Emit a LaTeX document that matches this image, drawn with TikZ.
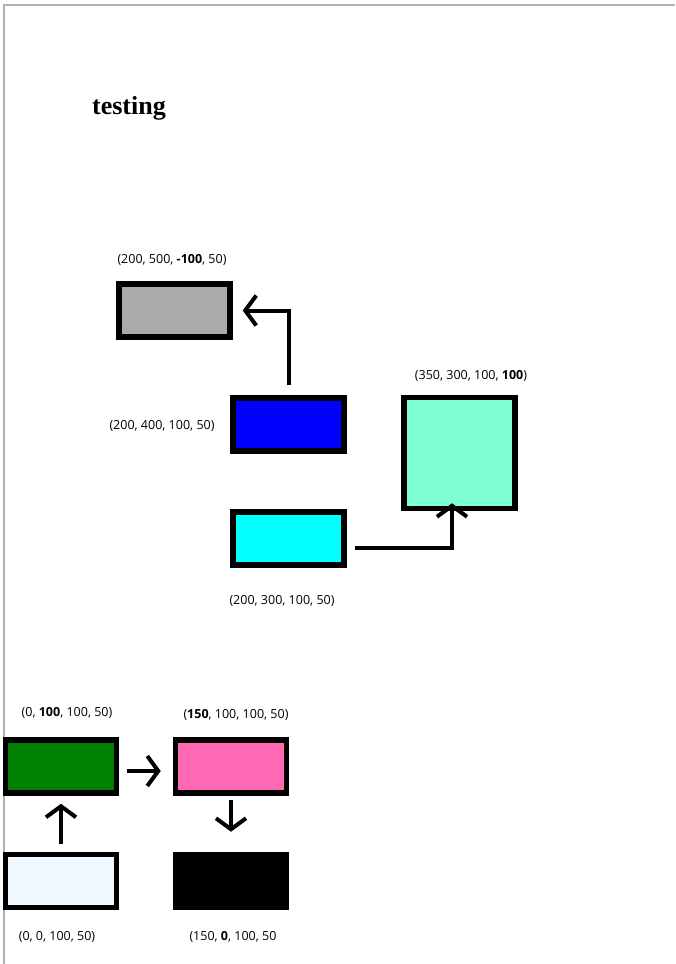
\documentclass[tikz,border=0pt]{standalone}
\usepackage{fontspec}
\setmainfont{Liberation Serif}
\newfontfamily\labelfont{Open Sans}
\usetikzlibrary{arrows.meta,positioning}

\begin{document}
\begin{tikzpicture}[x=1pt,y=-1pt,
  box/.style={draw,line width=5.5pt,minimum width=111pt,minimum height=53pt,inner sep=0pt},
  tag/.style={font=\labelfont\fontsize{12.5}{15}\selectfont},
  link/.style={line width=4pt,-{Straight Barb[length=11pt,width=30pt]}}]
  \useasboundingbox (0,0) rectangle (675,964);
  % page edge
  \draw[gray!60,line width=1.5pt] (4,964) -- (4,5) -- (675,5);
  \node[font=\bfseries\fontsize{26}{30}\selectfont] (title) at (129,108) {testing};

  % upper group
  \node[box,fill={rgb,255:red,170;green,170;blue,170}] (gray) at (174.5,310.5) {};
  \node[box,fill={rgb,255:red,0;green,0;blue,255}] (blue) at (288.5,424.5) {};
  \node[box,fill={rgb,255:red,0;green,255;blue,255}] (cyan) at (288.5,538.5) {};
  \node[box,fill={rgb,255:red,127;green,255;blue,212},minimum height=111pt] (aqua) at (459.5,453) {};
  \node[tag] (lgray) at (172,260) {(200, 500, \textbf{-100}, 50)};
  \node[tag] (lblue) at (162,426) {(200, 400, 100, 50)};
  \node[tag] (laqua) at (471,376) {(350, 300, 100, \textbf{100})};
  \node[tag] (lcyan) at (282,601) {(200, 300, 100, 50)};
  \draw[link,shorten <=10pt,shorten >=10pt] (blue.north) |- (gray.east);
  \draw[link,shorten <=8pt,shorten >=-8pt] (cyan.east |- 0,548) -| (aqua.south -| 452,0);

  % lower group
  \node[box,fill={rgb,255:red,0;green,128;blue,0}] (green) at (61,766.5) {};
  \node[box,fill={rgb,255:red,255;green,105;blue,180}] (pink) at (231,766.5) {};
  \node[box,fill={rgb,255:red,240;green,248;blue,255}] (alice) at (61,881) {};
  \node[box,fill=black] (dark) at (231,881) {};
  \node[tag] (lgreen) at (67,713) {(0, \textbf{100}, 100, 50)};
  \node[tag] (lpink) at (236,715) {(\textbf{150}, 100, 100, 50)};
  \node[tag] (lalice) at (57,937) {(0, 0, 100, 50)};
  \node[tag] (ldark) at (233,937) {(150, \textbf{0}, 100, 50};
  \draw[link,shorten <=8pt,shorten >=12pt] (green.east |- 0,771) -- (pink.west |- 0,771);
  \draw[link,shorten <=8pt,shorten >=8pt] (alice.north) -- (green.south);
  \draw[link,shorten <=4pt,shorten >=20pt] (pink.south) -- (dark.north);
\end{tikzpicture}
\end{document}
